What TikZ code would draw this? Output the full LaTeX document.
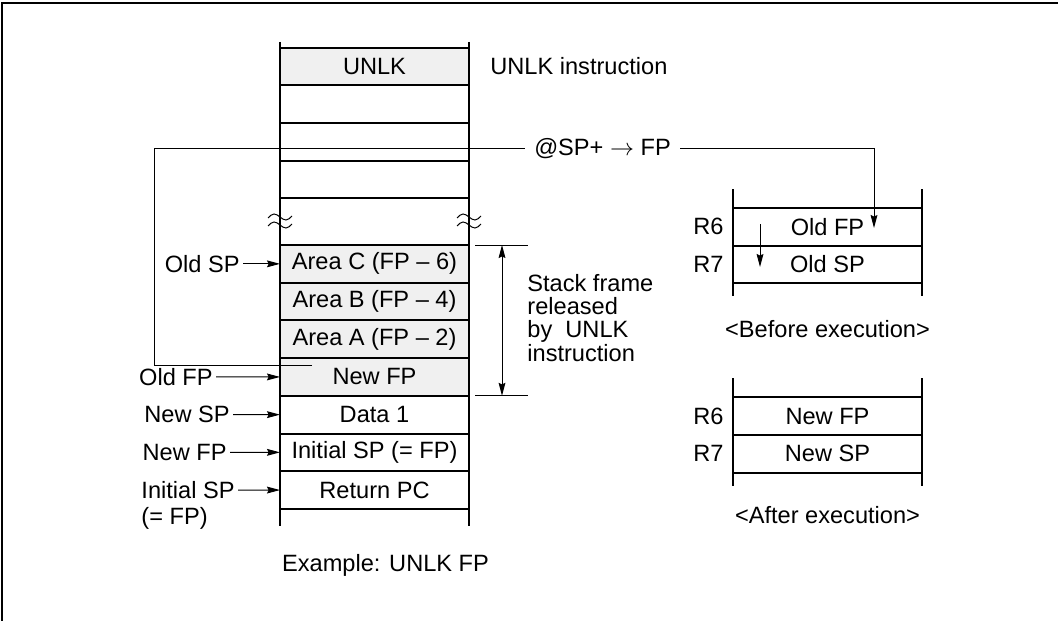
\documentclass[tikz,border=0pt]{standalone}
\usepackage{fontspec}
\setmainfont{Liberation Sans}
\usetikzlibrary{arrows.meta,positioning,calc}

\begin{document}
\begin{tikzpicture}[x=0.5pt,y=-0.5pt,
  font=\fontsize{11.8}{11.6}\selectfont,
  cell/.style={draw, line width=1pt, outer sep=0pt, inner sep=0pt, minimum width=94.5pt, minimum height=18.85pt},
  usedcell/.style={cell, fill=black!6},
  wall/.style={line width=1pt},
  thinline/.style={line width=0.5pt},
  lbl/.style={inner sep=1.5pt},
  arr/.style={thinline, -{Stealth[length=6.5pt,width=3.4pt,inset=0.8pt]}},
  dblarr/.style={thinline, {Stealth[length=6.5pt,width=3.4pt,inset=0.8pt]}-{Stealth[length=6.5pt,width=3.4pt,inset=0.8pt]}}]
\useasboundingbox (0,0) rectangle (1058,620);
\draw[line width=0.8pt] (2,3) rectangle (1080,640);

% stack
\node[usedcell] (unlk) at (374.5,66.55) {UNLK};
\node[cell, below=0pt of unlk] (e1) {};
\node[cell, below=0pt of e1] (e2) {};
\node[cell, below=0pt of e2] (e3) {};
\node[usedcell] (areaC) at (374.5,263.85) {Area C (FP \textendash\ 6)};
\node[usedcell, below=0pt of areaC] (areaB) {Area B (FP \textendash\ 4)};
\node[usedcell, below=0pt of areaB] (areaA) {Area A (FP \textendash\ 2)};
\node[usedcell, below=0pt of areaA] (newfp) {New FP};
\node[cell, below=0pt of newfp] (data) {Data 1};
\node[cell, below=0pt of data] (initsp) {Initial SP (= FP)};
\node[cell, below=0pt of initsp] (retpc) {Return PC};
\draw[wall] ([yshift=2.85pt]unlk.north west) -- ([yshift=-8.3pt]retpc.south west);
\draw[wall] ([yshift=2.85pt]unlk.north east) -- ([yshift=-8.3pt]retpc.south east);
\foreach \sx in {280,469}
  \foreach \sy in {217,225}
    \draw[thinline] (\sx-12,\sy+1) sin (\sx-6,\sy-3) cos (\sx,\sy) sin (\sx+6,\sy+3) cos (\sx+12,\sy-1);

\node[lbl, right=9pt of unlk] (instr) {UNLK instruction};
\node (example) at (385.5,565) {Example: UNLK FP};

% pointers
\node[lbl, anchor=east] (oldsp) at (243,263.85) {Old SP};
\node[lbl, anchor=east] (oldfp) at (216,376.95) {Old FP};
\node[lbl, anchor=east] (newsp) at (233,414.65) {New SP};
\node[lbl, anchor=east] (newfpl) at (230,452.35) {New FP};
\node[lbl, anchor=east] (initl) at (238,490.05) {Initial SP};
\node[lbl, anchor=north west] (initeq) at ([yshift=-1pt]initl.south west) {(= FP)};
\draw[arr] (oldsp) -- (areaC);
\draw[arr] (oldfp) -- (newfp);
\draw[arr] (newsp) -- (data);
\draw[arr] (newfpl) -- (initsp);
\draw[arr] (initl) -- (retpc);

% released frame
\coordinate (frtop) at ([xshift=3pt]areaC.north east);
\coordinate (frbot) at ([xshift=3pt]newfp.south east);
\draw[thinline] (frtop) -- ++(53,0);
\draw[thinline] (frbot) -- ++(53,0);
\draw[dblarr] ($(frtop)+(27,0)$) -- ($(frbot)+(27,0)$);
\node[lbl, anchor=north west, align=left] (frame) at (524,271) {Stack frame\\released\\by~ UNLK\\instruction};

% registers before
\node[cell] (r6old) at (827.5,226.7) {Old FP};
\node[cell, below=0pt of r6old] (r7old) {Old SP};
\draw[wall] ([yshift=9.4pt]r6old.north west) -- ([yshift=-6.2pt]r7old.south west);
\draw[wall] ([yshift=9.4pt]r6old.north east) -- ([yshift=-6.2pt]r7old.south east);
\node[lbl, left=3pt of r6old] (r6a) {R6};
\node[lbl, left=3pt of r7old] (r7a) {R7};
\node[below=15pt of r7old] (before) {<Before execution>};
\coordinate (fpold) at (760,224);
\coordinate (fpnew) at (760,267);
\draw[arr] (fpold) -- (fpnew);

% registers after
\node[cell] (r6new) at (827.5,416.15) {New FP};
\node[cell, below=0pt of r6new] (r7new) {New SP};
\draw[wall] ([yshift=9.65pt]r6new.north west) -- ([yshift=-6.5pt]r7new.south west);
\draw[wall] ([yshift=9.65pt]r6new.north east) -- ([yshift=-6.5pt]r7new.south east);
\node[lbl, left=3pt of r6new] (r6b) {R6};
\node[lbl, left=3pt of r7new] (r7b) {R7};
\node[below=13.5pt of r7new] (after) {<After execution>};

% pop into FP
\node[inner sep=4.5pt] (op) at (602.5,149) {@SP+ $\rightarrow$ FP};
\coordinate (src) at (312,365);
\coordinate (dst) at (874,228);
\draw[thinline] (src) -- ++(-158,0) |- (op.west);
\draw[arr] (op.east) -| (dst);
\end{tikzpicture}
\end{document}
